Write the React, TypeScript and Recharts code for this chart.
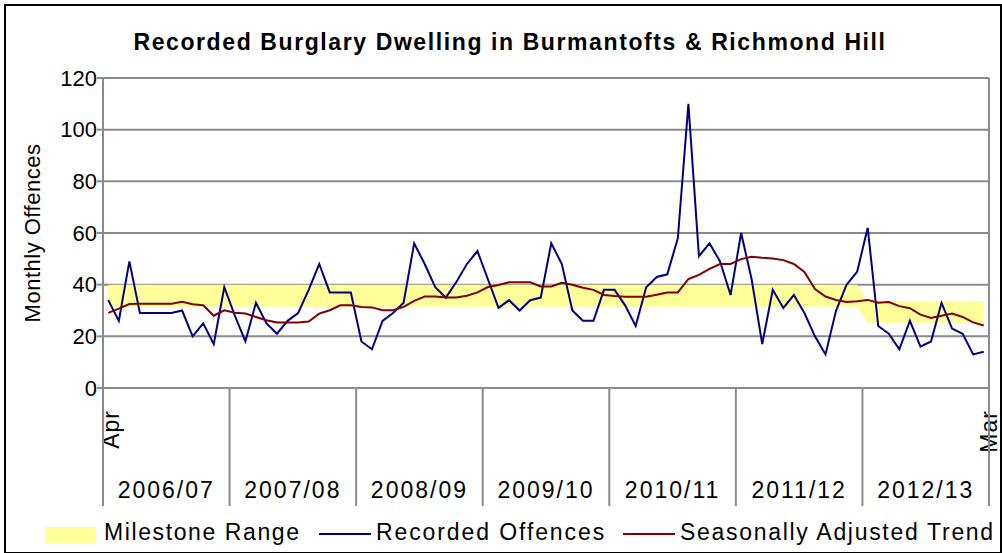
import { ComposedChart, Area, Line, XAxis, YAxis, CartesianGrid, ReferenceLine } from "recharts";

const years = ["2006/07", "2007/08", "2008/09", "2009/10", "2010/11", "2011/12", "2012/13"];
const months = ["Apr", "May", "Jun", "Jul", "Aug", "Sep", "Oct", "Nov", "Dec", "Jan", "Feb", "Mar"];

// monthly recorded offences, Apr 2006 .. Mar 2013
const recordedOffences = [
  34, 26, 49, 29, 29, 29, 29, 30, 20, 25, 17, 39,
  28, 18, 33, 25, 21, 26, 29, 38, 48, 37, 37, 37,
  18, 15, 26, 29, 33, 56, 48, 39, 35, 41, 48, 53,
  42, 31, 34, 30, 34, 35, 56, 48, 30, 26, 26, 38,
  38, 32, 24, 39, 43, 44, 58, 110, 51, 56, 49, 36,
  60, 42, 17, 38, 31, 36, 29, 20, 13, 30, 40, 45,
  62, 24, 21, 15, 26, 16, 18, 33, 23, 21, 13, 14,
];

const seasonalTrend = [
  29.1, 30.7, 32.5, 32.6, 32.6, 32.6, 32.6, 33.4, 32.4, 32, 28, 30.1,
  29.1, 28.8, 27.5, 26.2, 25.4, 25.4, 25.4, 25.7, 28.8, 30.1, 32, 32,
  31.4, 31.2, 30.1, 30.1, 31.4, 33.7, 35.4, 35.4, 35, 35, 35.7, 37,
  39.1, 39.9, 40.9, 40.9, 40.9, 39.3, 39.3, 40.7, 40, 38.8, 38, 36,
  35.6, 35.3, 35.3, 35.3, 36.1, 37, 37, 42.2, 43.8, 46.1, 48, 48,
  49.9, 50.8, 50.4, 50.1, 49.5, 48, 44.9, 38.3, 35.4, 34.1, 33.3, 33.6,
  34.1, 33, 33.3, 31.7, 30.9, 28.4, 27.1, 28, 28.8, 27.5, 25.4, 24.2,
];

// milestone range per financial year
const milestoneLow = [31.5, 31.5, 31.5, 31.5, 31.5, 31.5, 25.3];
const milestoneHigh = [40, 40, 40, 40, 40, 40, 33.7];

const yTicks = [0, 20, 40, 60, 80, 100, 120];

const data = years.flatMap((year, y) =>
  months.map((month, m) => {
    const i = y * 12 + m;
    return {
      key: `${month} ${year}`,
      month,
      year,
      recorded: recordedOffences[i],
      trend: seasonalTrend[i],
      range: [milestoneLow[y], milestoneHigh[y]],
    };
  })
);

const FONT = "'Liberation Sans', Arial, sans-serif";
const GRID = "#8a8a8a";

interface TickProps {
  x?: number;
  y?: number;
  index?: number;
  payload?: { offset?: number };
}

function MonthTick({ x = 0, y = 0, index = 0, payload }: TickProps) {
  const half = payload?.offset || 5.27;
  const last = data.length - 1;
  const item = data[index];
  if (!item) return null;
  return (
    <g>
      {(index === 0 || index === last) && (
        <text
          transform={`translate(${x + (index === last ? 5 : 3)},${y + 22}) rotate(-90)`}
          textAnchor="end"
          dy="0.35em"
          fontSize={23}
          letterSpacing={1}
          fontFamily={FONT}
          fill="#000"
        >
          {item.month}
        </text>
      )}
      {index % 12 === 0 && <line x1={x - half} x2={x - half} y1={y} y2={y + 118} stroke={GRID} strokeWidth={2} />}
      {index === last && <line x1={x + half} x2={x + half} y1={y} y2={y + 118} stroke={GRID} strokeWidth={2} />}
      {index % 12 === 5 && (
        <text x={x + half} y={y + 110} textAnchor="middle" fontSize={23} letterSpacing={2} fontFamily={FONT} fill="#000">
          {item.year}
        </text>
      )}
    </g>
  );
}

interface LabelProps {
  viewBox?: { x: number; y: number; width: number; height: number };
}

function YLabel({ viewBox }: LabelProps) {
  if (!viewBox) return null;
  const cx = viewBox.x - 11;
  const cy = viewBox.y + viewBox.height / 2;
  return (
    <text
      transform={`translate(${cx},${cy}) rotate(-90)`}
      textAnchor="middle"
      dy="0.35em"
      fontSize={22}
      letterSpacing={0.5}
      fontFamily={FONT}
      fill="#000"
    >
      Monthly Offences
    </text>
  );
}

export default function App() {
  return (
    <div style={{ position: "absolute", left: 0, top: 0, width: 1002, height: 553, background: "#fff", fontFamily: FONT }}>
      <div style={{ position: "absolute", left: 4, top: 4, width: 994, height: 546, border: "2px solid #000" }} />
      <div
        style={{
          position: "absolute",
          left: 0,
          width: 1020,
          top: 29,
          textAlign: "center",
          fontSize: 23,
          fontWeight: "bold",
          letterSpacing: 1.6,
          lineHeight: "26px",
        }}
      >
        Recorded Burglary Dwelling in Burmantofts &amp; Richmond Hill
      </div>

      <ComposedChart width={1002} height={553} data={data} margin={{ top: 78, right: 13, bottom: 35, left: 43 }}>
        <CartesianGrid vertical={false} stroke={GRID} strokeWidth={2} />
        <XAxis
          dataKey="key"
          scale="band"
          interval={0}
          height={130}
          tickSize={0}
          tickMargin={0}
          tickLine={false}
          axisLine={{ stroke: GRID, strokeWidth: 2 }}
          tick={<MonthTick />}
        />
        <YAxis
          domain={[0, 120]}
          ticks={yTicks}
          interval={0}
          width={60}
          tickSize={6}
          tickMargin={0}
          tickLine={{ stroke: GRID, strokeWidth: 2 }}
          axisLine={{ stroke: GRID, strokeWidth: 2 }}
          tick={{ fill: "#000", fontSize: 22, fontFamily: FONT }}
          label={<YLabel />}
        />
        <Area
          dataKey="range"
          type="linear"
          fill="#ffff99"
          fillOpacity={1}
          stroke="none"
          isAnimationActive={false}
        />
        <ReferenceLine x={data[data.length - 1].key} position="end" stroke={GRID} strokeWidth={2} />
        <Line dataKey="recorded" type="linear" stroke="#000080" strokeWidth={2} dot={false} isAnimationActive={false} />
        <Line dataKey="trend" type="linear" stroke="#800000" strokeWidth={2} dot={false} isAnimationActive={false} />
      </ComposedChart>

      <div style={{ position: "absolute", left: 45, top: 527, width: 51, height: 16, background: "#ffff99" }} />
      <div style={{ position: "absolute", left: 104, top: 521, fontSize: 23, lineHeight: "23px", letterSpacing: 1.6 }}>
        Milestone Range
      </div>
      <div style={{ position: "absolute", left: 319, top: 533, width: 52, height: 2, background: "#000080" }} />
      <div style={{ position: "absolute", left: 376, top: 521, fontSize: 23, lineHeight: "23px", letterSpacing: 1.9 }}>
        Recorded Offences
      </div>
      <div style={{ position: "absolute", left: 623, top: 533, width: 52, height: 2, background: "#800000" }} />
      <div style={{ position: "absolute", left: 680, top: 521, fontSize: 23, lineHeight: "23px", letterSpacing: 1.7 }}>
        Seasonally Adjusted Trend
      </div>
    </div>
  );
}
